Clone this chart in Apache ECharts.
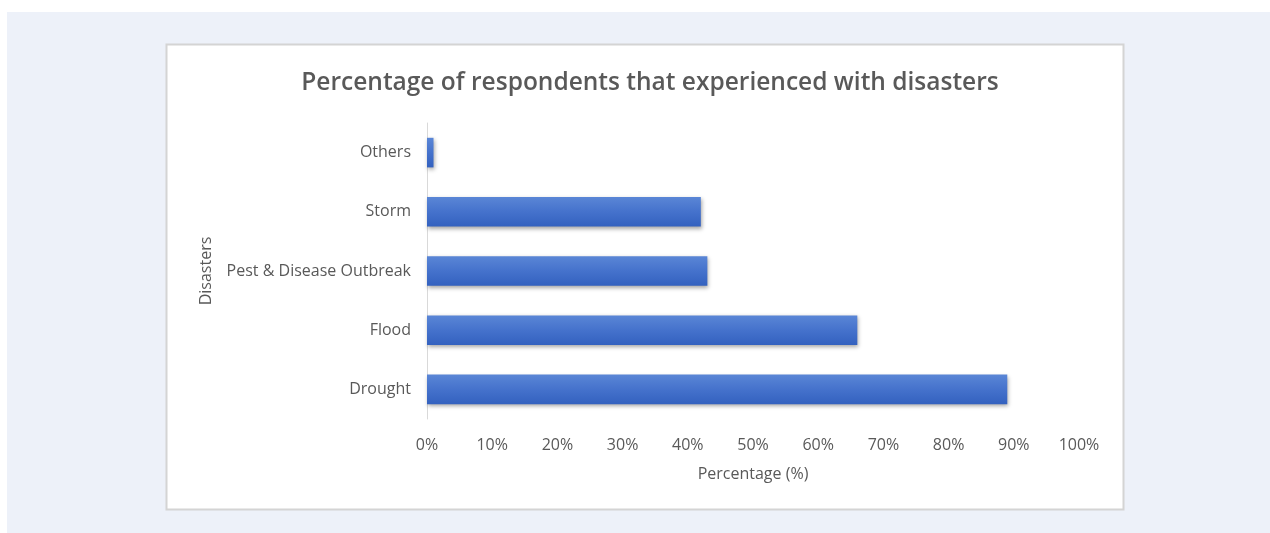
<!DOCTYPE html>
<html><head><meta charset="utf-8">
<script src="https://cdn.jsdelivr.net/npm/echarts@6/dist/echarts.min.js"></script>
<style>html,body{margin:0;padding:0;background:#fff}#c{width:1270px;height:533px}</style>
</head><body><div id="c"></div>
<script>
const categories = ['Drought', 'Flood', 'Pest & Disease Outbreak', 'Storm', 'Others'];
const values = [89, 66, 43, 42, 1];
const xTicks = [0, 10, 20, 30, 40, 50, 60, 70, 80, 90, 100];
const titleText = 'Percentage of respondents that experienced with disasters';

const chart = echarts.init(document.getElementById('c'));
const font = '"Open Sans", sans-serif';
chart.setOption({
  animation: false,
  graphic: [
    { type: 'rect', z: -10, shape: { x: 7, y: 12, width: 1263, height: 521 }, style: { fill: '#edf1f9' } },
    { type: 'rect', z: -9, shape: { x: 166.5, y: 44.5, width: 957, height: 465 }, style: { fill: '#fff', stroke: '#d4d4d4', lineWidth: 2 } }
  ],
  title: {
    text: titleText, left: 645, top: 66, textAlign: 'center',
    textStyle: { fontFamily: font, fontSize: 24.5, fontWeight: 600, color: '#595959' }
  },
  grid: { left: 427, right: 191, top: 123, bottom: 114 },
  xAxis: {
    type: 'value', min: 0, max: 100, interval: 10,
    name: 'Percentage (%)', nameLocation: 'middle', nameGap: 47,
    nameTextStyle: { fontFamily: font, fontSize: 16, color: '#595959' },
    axisLine: { show: false }, axisTick: { show: false }, splitLine: { show: false },
    axisLabel: { margin: 18, fontFamily: font, fontSize: 16, color: '#595959',
      formatter: v => xTicks.includes(v) ? v + '%' : '' }
  },
  yAxis: {
    type: 'category', data: categories,
    name: 'Disasters', nameLocation: 'middle', nameGap: 213, nameRotate: 90,
    nameTextStyle: { fontFamily: font, fontSize: 16, color: '#595959' },
    axisLine: { show: true, lineStyle: { color: '#d9d9d9', width: 1 } },
    axisTick: { show: false },
    axisLabel: { margin: 16, fontFamily: font, fontSize: 16, color: '#595959' }
  },
  series: [{
    type: 'bar', data: values, barCategoryGap: '50%',
    itemStyle: {
      color: new echarts.graphic.LinearGradient(0, 0, 0, 1, [
        { offset: 0, color: '#5a86d6' }, { offset: 0.5, color: '#4572cc' }, { offset: 1, color: '#3361bf' }
      ]),
      shadowColor: 'rgba(0,0,0,0.35)', shadowBlur: 4, shadowOffsetY: 2, shadowOffsetX: 1
    }
  }]
});
</script></body></html>
